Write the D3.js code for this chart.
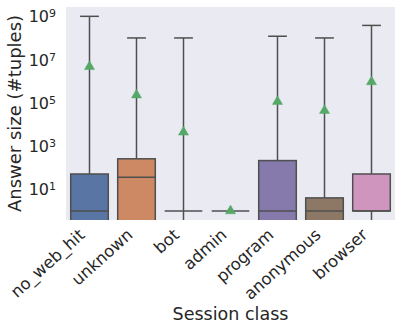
<!DOCTYPE html>
<html>
<head>
<meta charset="utf-8">
<script src="https://cdn.jsdelivr.net/npm/d3@7"></script>
<style>
  body { margin: 0; background: #fff; }
  text { font-family: "DejaVu Sans", sans-serif; fill: #262626; }
</style>
</head>
<body>
<svg id="chart" width="402" height="331"></svg>
<script>
"use strict";

// data (0 = below the visible log range)
const categories = ["no_web_hit", "unknown", "bot", "admin", "program", "anonymous", "browser"];
const whiskerLow = [0, 0, 0, 1, 0, 0, 0];
const q1 = [0, 0, 1, 1, 0, 0, 1];
const medians = [1, 36, 1, 1, 1, 1, 1];
const q3 = [51, 257, 1, 1, 213, 4, 51];
const whiskerHigh = [1e9, 1e8, 1e8, 1, 1.2e8, 1e8, 3.8e8];
const means = [4.7e6, 2.3e5, 4.4e3, 1, 1.15e5, 4.4e4, 9.4e5];
const yTicks = [1e1, 1e3, 1e5, 1e7, 1e9];
const palette = ["#4C72B0", "#DD8452", "#55A868", "#C44E52", "#8172B3", "#937860", "#DA8BC3"];

const svg = d3.select("#chart");
const margin = {top: 7, right: 7, bottom: 111, left: 66};
const width = 402 - margin.left - margin.right;
const height = 331 - margin.top - margin.bottom;

const yMin = 0.38, yMax = 2.7e9;
const x = d3.scaleBand().domain(categories).range([0, width]).paddingInner(0).paddingOuter(0);
const y = d3.scaleLog().domain([yMin, yMax]).range([height, 0]);
const yv = v => y(Math.max(v, yMin * 0.5));

// seaborn desaturates box colours
const boxColor = c => { let h = d3.hsl(c); h.s *= 0.75; return h.formatHex(); };
const lineColor = "#4f4f4f";

svg.append("defs").append("clipPath").attr("id", "clip")
  .append("rect").attr("width", width).attr("height", height);

const g = svg.append("g").attr("transform", `translate(${margin.left},${margin.top})`);
g.append("rect").attr("width", width).attr("height", height).attr("fill", "#EAEAF2");

const plot = g.append("g").attr("clip-path", "url(#clip)");

const rows = categories.map((c, i) => ({
  name: c, lo: whiskerLow[i], q1: q1[i], med: medians[i], q3: q3[i],
  hi: whiskerHigh[i], mean: means[i], color: boxColor(palette[i])
}));

const bw = x.bandwidth() * 0.8;
const box = plot.selectAll("g.box").data(rows).enter().append("g")
  .attr("class", "box")
  .attr("transform", d => `translate(${x(d.name) + x.bandwidth() / 2},0)`);

// whiskers
box.filter(d => d.hi > d.q3).append("line")
  .attr("y1", d => yv(d.q3)).attr("y2", d => yv(d.hi))
  .attr("stroke", lineColor).attr("stroke-width", 1.5);
box.filter(d => d.hi > d.q3).append("line")
  .attr("x1", -bw / 4).attr("x2", bw / 4)
  .attr("y1", d => yv(d.hi)).attr("y2", d => yv(d.hi))
  .attr("stroke", lineColor).attr("stroke-width", 1.5);
box.filter(d => d.lo < d.q1).append("line")
  .attr("y1", d => yv(d.q1)).attr("y2", d => yv(d.lo))
  .attr("stroke", lineColor).attr("stroke-width", 1.5);

// boxes
box.append("rect")
  .attr("x", -bw / 2).attr("width", bw)
  .attr("y", d => yv(d.q3))
  .attr("height", d => yv(d.q1) - yv(d.q3))
  .attr("fill", d => d.color)
  .attr("stroke", lineColor).attr("stroke-width", 1.5);

// medians
box.append("line")
  .attr("x1", -bw / 2).attr("x2", bw / 2)
  .attr("y1", d => yv(d.med)).attr("y2", d => yv(d.med))
  .attr("stroke", lineColor).attr("stroke-width", 1.5);

// means
box.append("path")
  .attr("d", d3.symbol(d3.symbolTriangle, 44))
  .attr("transform", d => `translate(0,${yv(d.mean)})`)
  .attr("fill", "#55A868").attr("stroke", "#55A868").attr("stroke-width", 0.5);

// y axis
const yAxis = g.append("g").selectAll("text").data(yTicks).enter().append("text")
  .attr("x", -10).attr("y", d => y(d)).attr("dy", "0.38em")
  .attr("text-anchor", "end").style("font-size", "16px");
yAxis.append("tspan").text("10");
yAxis.append("tspan").attr("dy", "-0.45em").style("font-size", "11px")
  .text(d => Math.round(Math.log10(d)));

// x axis labels: rotated, then aligned like matplotlib (box right at tick, box top under axis)
const svgRect = svg.node().getBoundingClientRect();
const xLab = svg.append("g").selectAll("g").data(categories).enter().append("g");
xLab.append("text")
  .attr("transform", "rotate(-42)")
  .attr("text-anchor", "end")
  .style("font-size", "16.5px")
  .text(d => d);
xLab.each(function(d) {
  const b = this.getBoundingClientRect();
  const tx = margin.left + x(d) + x.bandwidth() / 2 - (b.right - svgRect.left);
  const ty = margin.top + height + 5 - (b.top - svgRect.top);
  d3.select(this).attr("transform", `translate(${tx},${ty})`);
});

g.append("text")
  .attr("x", width / 2).attr("y", 320 - margin.top)
  .attr("text-anchor", "middle").style("font-size", "17.5px")
  .text("Session class");

g.append("text")
  .attr("transform", `translate(${-51},${height / 2}) rotate(-90)`)
  .attr("text-anchor", "middle").attr("dy", "0.35em").style("font-size", "18px")
  .text("Answer size (#tuples)");
</script>
</body>
</html>
